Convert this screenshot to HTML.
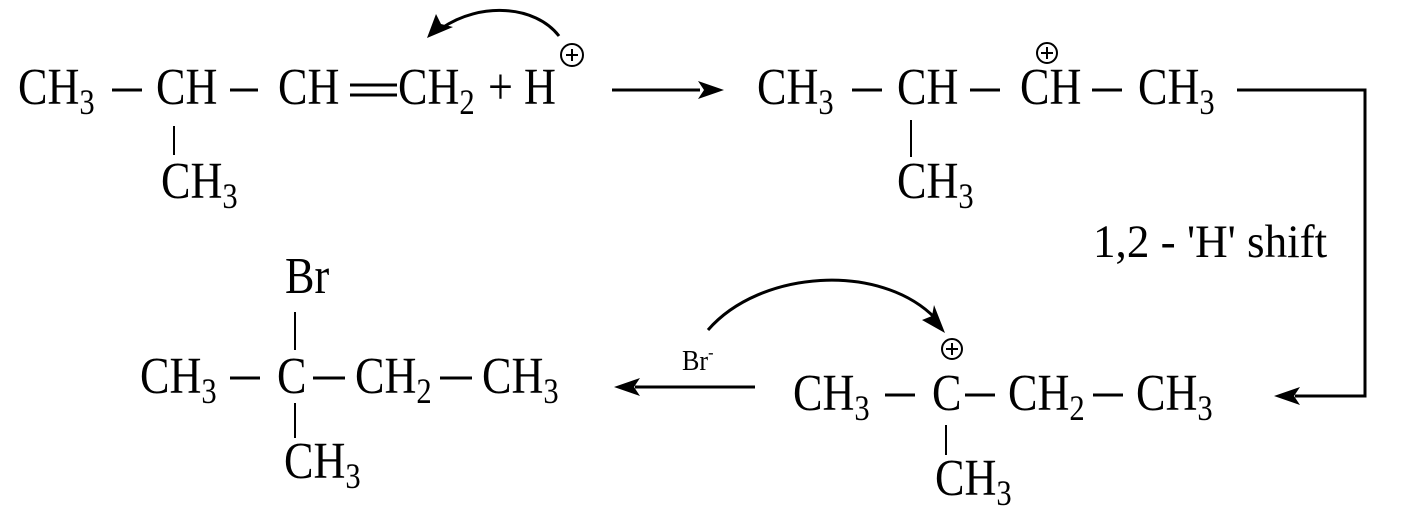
<!DOCTYPE html>
<html><head><meta charset="utf-8"><style>
html,body{margin:0;padding:0;background:#fff;}
svg{display:block;}
text{font-family:"Liberation Serif",serif;font-size:52px;fill:#000;}
.s{font-size:36px;}
</style></head><body>
<svg width="1409" height="521" viewBox="0 0 1409 521" xmlns="http://www.w3.org/2000/svg">
<g stroke="#000" stroke-width="3" fill="none">
<line x1="112" y1="90" x2="142" y2="90"/>
<line x1="230" y1="90" x2="258" y2="90"/>
<line x1="350" y1="85" x2="397" y2="85"/>
<line x1="350" y1="95" x2="397" y2="95"/>
<line x1="174" y1="126" x2="174" y2="155" stroke-width="2"/>
<line x1="612" y1="90" x2="700" y2="90"/>
<path d="M698,81 L724,90 L698,99 L704,90 Z" fill="#000" stroke="none"/>
<path d="M559,36 C535,5 480,2 442,28"/>
<path d="M427,38 L436,14 L441,24 L453,27 Z" fill="#000" stroke="none"/>
<circle cx="572" cy="55" r="11" stroke-width="2"/>
<line x1="566" y1="55" x2="578" y2="55" stroke-width="2"/>
<line x1="572" y1="49" x2="572" y2="61" stroke-width="2"/>
<line x1="852" y1="90" x2="882" y2="90"/>
<line x1="970" y1="90" x2="1000" y2="90"/>
<line x1="1092" y1="90" x2="1122" y2="90"/>
<line x1="911" y1="120" x2="911" y2="157" stroke-width="2"/>
<circle cx="1047" cy="53" r="10" stroke-width="2"/>
<line x1="1041" y1="53" x2="1053" y2="53" stroke-width="2"/>
<line x1="1047" y1="47" x2="1047" y2="59" stroke-width="2"/>
<polyline points="1237,90 1365,90 1365,396 1295,396"/>
<path d="M1300,387 L1274,396 L1300,405 L1294,396 Z" fill="#000" stroke="none"/>
<line x1="885" y1="395" x2="915" y2="395"/>
<line x1="965" y1="395" x2="995" y2="395"/>
<line x1="1093" y1="395" x2="1123" y2="395"/>
<line x1="946" y1="425" x2="946" y2="455" stroke-width="2"/>
<circle cx="952" cy="349" r="10" stroke-width="2"/>
<line x1="946" y1="349" x2="958" y2="349" stroke-width="2"/>
<line x1="952" y1="343" x2="952" y2="355" stroke-width="2"/>
<path d="M708,330 C760,270 880,262 935,318"/>
<path d="M945,333 L922,320 L932,316 L934,305 Z" fill="#000" stroke="none"/>
<line x1="755" y1="387" x2="635" y2="387"/>
<path d="M640,378 L614,387 L640,396 L634,387 Z" fill="#000" stroke="none"/>
<line x1="230" y1="378" x2="260" y2="378"/>
<line x1="313" y1="378" x2="345" y2="378"/>
<line x1="440" y1="378" x2="472" y2="378"/>
<line x1="295" y1="312" x2="295" y2="350" stroke-width="2"/>
<line x1="295" y1="403" x2="295" y2="438" stroke-width="2"/>
</g>
<text transform="translate(18,104) scale(0.85,1)">CH<tspan class="s" dy="10">3</tspan></text>
<text transform="translate(156,104) scale(0.85,1)">CH</text>
<text transform="translate(278,104) scale(0.85,1)">CH</text>
<text transform="translate(398,104) scale(0.85,1)">CH<tspan class="s" dy="10">2</tspan></text>
<text transform="translate(488,104) scale(0.85,1)">+</text>
<text transform="translate(524,104) scale(0.85,1)">H</text>
<text transform="translate(161,198) scale(0.85,1)">CH<tspan class="s" dy="10">3</tspan></text>
<text transform="translate(757,104) scale(0.85,1)">CH<tspan class="s" dy="10">3</tspan></text>
<text transform="translate(897,104) scale(0.85,1)">CH</text>
<text transform="translate(1020,104) scale(0.85,1)">CH</text>
<text transform="translate(1138,104) scale(0.85,1)">CH<tspan class="s" dy="10">3</tspan></text>
<text transform="translate(897,198) scale(0.85,1)">CH<tspan class="s" dy="10">3</tspan></text>
<text transform="translate(1093,257) scale(0.96,1)" style="font-size:47px">1,2 - 'H' shift</text>
<text transform="translate(793,410) scale(0.85,1)">CH<tspan class="s" dy="10">3</tspan></text>
<text transform="translate(932,410) scale(0.85,1)">C</text>
<text transform="translate(1008,410) scale(0.85,1)">CH<tspan class="s" dy="10">2</tspan></text>
<text transform="translate(1136,410) scale(0.85,1)">CH<tspan class="s" dy="10">3</tspan></text>
<text transform="translate(935,495) scale(0.85,1)">CH<tspan class="s" dy="10">3</tspan></text>
<text transform="translate(682,370) scale(0.9,1)" style="font-size:29px">Br<tspan style="font-size:18px" dy="-12">-</tspan></text>
<text transform="translate(140,393) scale(0.85,1)">CH<tspan class="s" dy="10">3</tspan></text>
<text transform="translate(277,393) scale(0.85,1)">C</text>
<text transform="translate(355,393) scale(0.85,1)">CH<tspan class="s" dy="10">2</tspan></text>
<text transform="translate(482,393) scale(0.85,1)">CH<tspan class="s" dy="10">3</tspan></text>
<text transform="translate(285,293) scale(0.85,1)">Br</text>
<text transform="translate(284,478) scale(0.85,1)">CH<tspan class="s" dy="10">3</tspan></text>
</svg>
</body></html>
